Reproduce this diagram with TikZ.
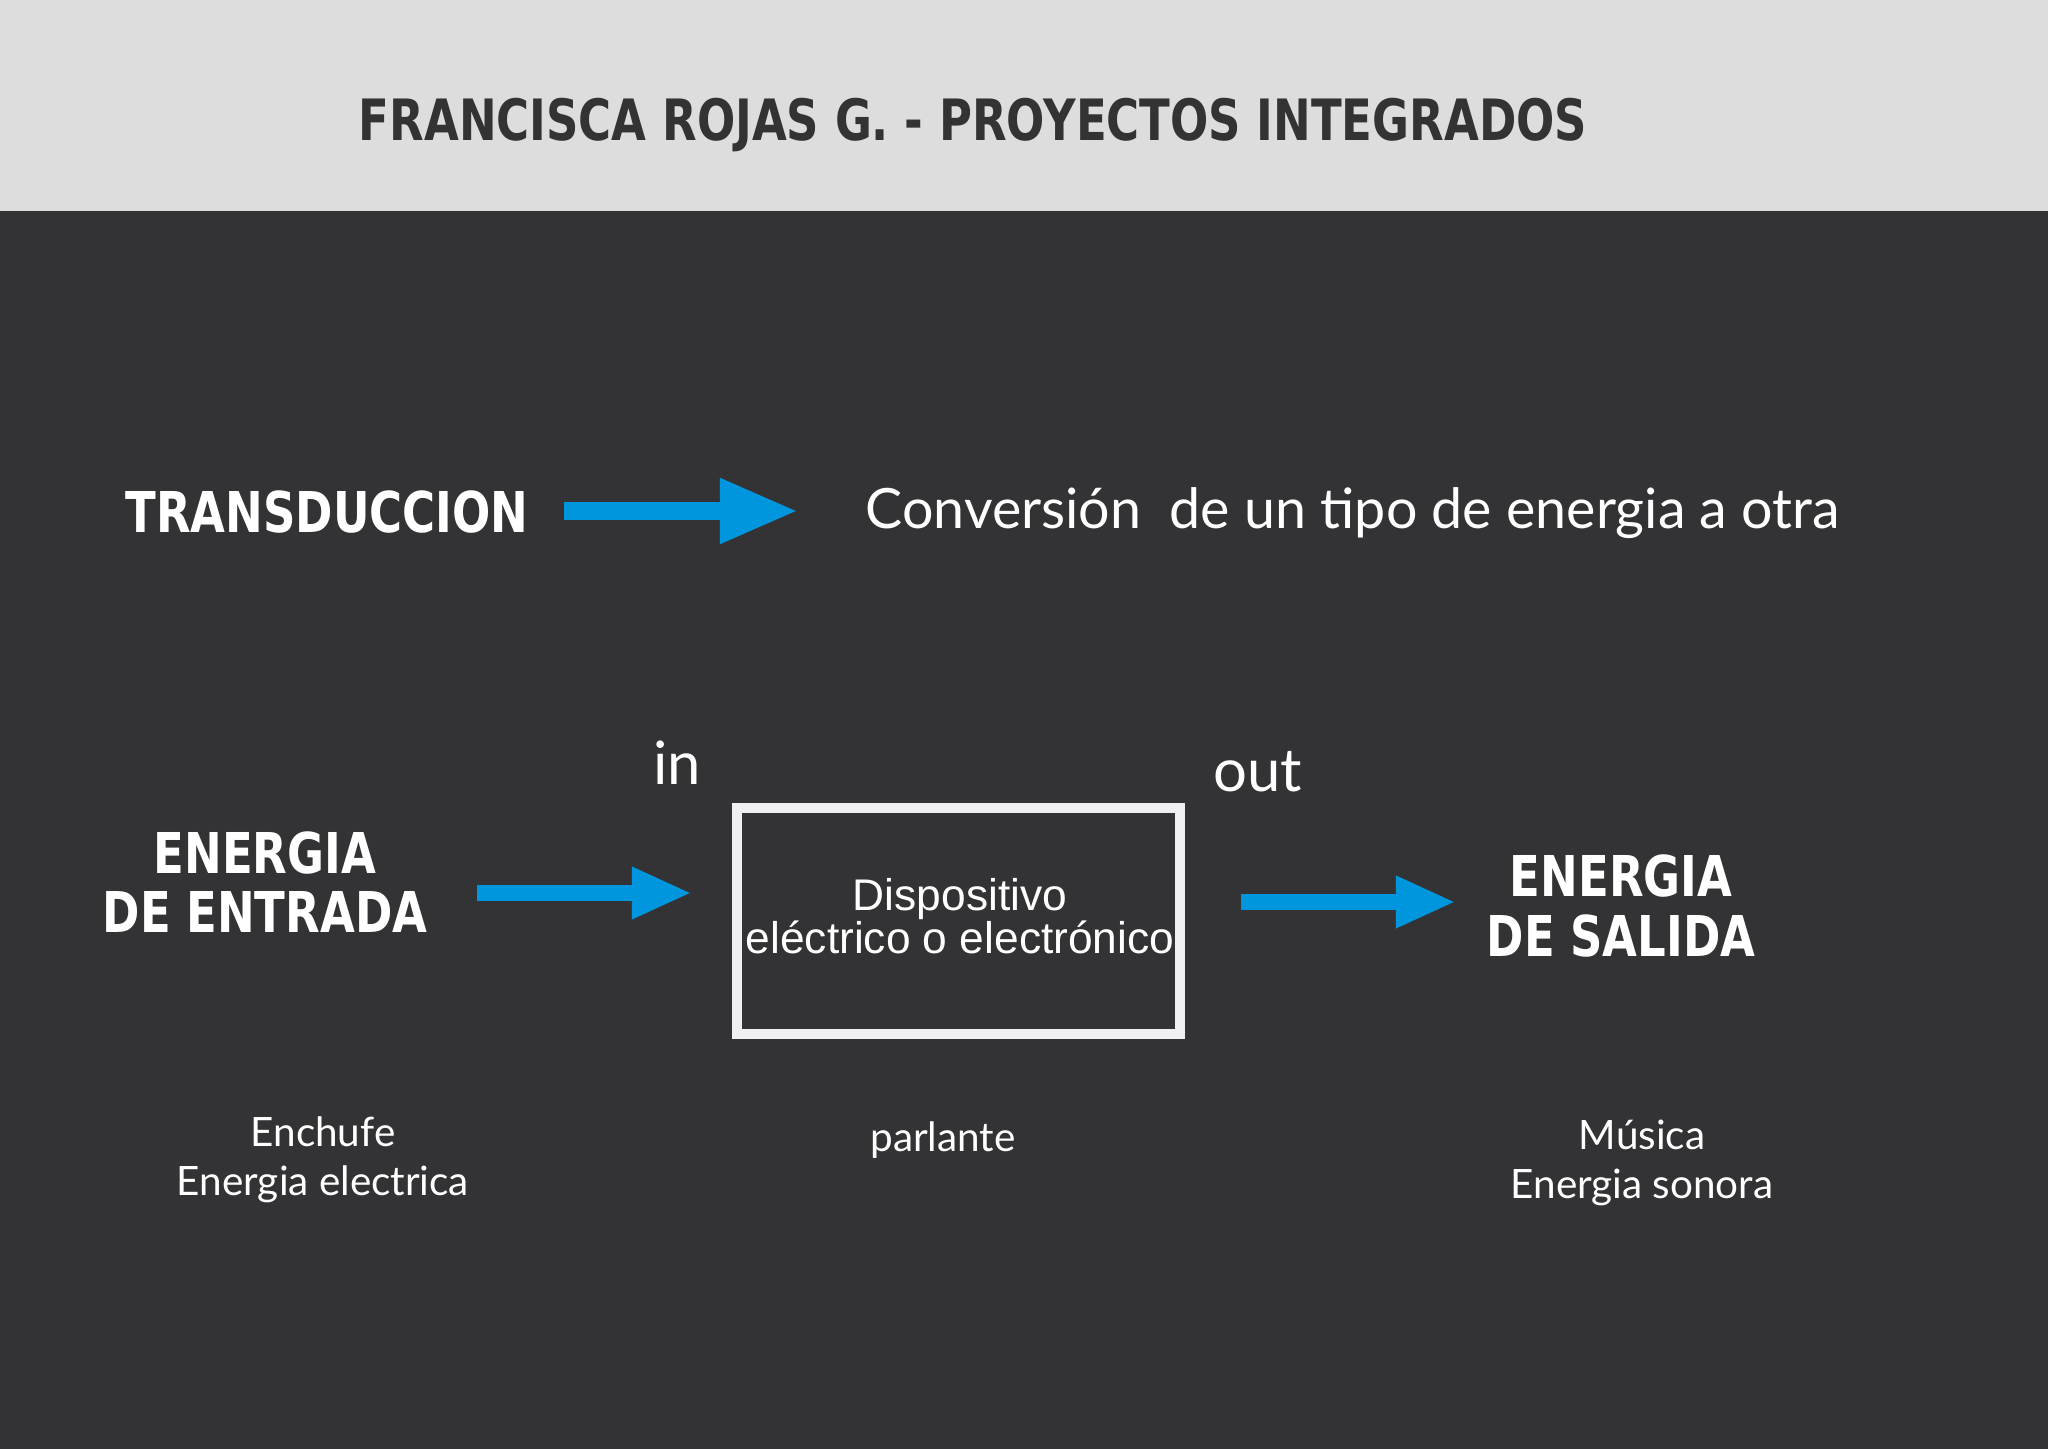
\documentclass[tikz,border=0pt]{standalone}
\usepackage{fontspec}
\usetikzlibrary{arrows.meta}

\newfontfamily\headfont[FakeStretch=0.80]{DejaVu Sans Bold}
\newfontfamily\titlefont[FakeStretch=0.79]{DejaVu Sans Bold}
\newfontfamily\bodyfont{Lato}
\newfontfamily\boxfont{Liberation Sans}

\definecolor{fondo}{RGB}{51,51,53}
\definecolor{franja}{RGB}{221,221,221}
\definecolor{titulo}{RGB}{51,51,51}
\definecolor{flecha}{RGB}{0,150,222}
\definecolor{marco}{RGB}{240,240,242}

\begin{document}
\begin{tikzpicture}[
    x=0.01cm,
    y=-0.01cm,
    line cap=butt,
    heading/.style={
        text=white,
        align=center,
        font={\headfont\fontsize{16}{16.8}\selectfont}
    },
    plain/.style={
        text=white,
        align=center,
        font={\bodyfont\fontsize{11.5}{14}\selectfont}
    },
    bigarrow/.style={
        flecha,
        line width=0.17cm,
        -{Triangle[length=0.78cm,width=0.61cm]}
    },
    smallarrow/.style={
        flecha,
        line width=0.16cm,
        -{Triangle[length=0.60cm,width=0.48cm]}
    }
]

% -------------------------------------------------
% Fondo y franja superior
% -------------------------------------------------

\fill[fondo] (0,0) rectangle (2048,1449);
\fill[franja] (0,0) rectangle (2048,211);
\useasboundingbox (0,0) rectangle (2048,1449);

\node[anchor=base, text=titulo,
      font={\titlefont\fontsize{16.2}{18}\selectfont}]
    (titulo) at (973,141) {FRANCISCA ROJAS G. - PROYECTOS INTEGRADOS};

% -------------------------------------------------
% Definicion
% -------------------------------------------------

\node[heading, anchor=base] (trans) at (327,533) {TRANSDUCCION};

\node[anchor=base west, inner sep=0pt, text=white,
      font={\bodyfont\fontsize{15.8}{19}\selectfont}]
    (conv) at (865,529) {Conversión\ \ de un tipo de energia a otra};

\coordinate (a1) at (564,511);
\coordinate (b1) at (798,511);
\draw[bigarrow] (a1) -- (b1);

% -------------------------------------------------
% Esquema entrada - dispositivo - salida
% -------------------------------------------------

\node[heading] (entrada) at (265,882) {ENERGIA\\DE ENTRADA};
\node[heading] (salida)  at (1621,906) {ENERGIA\\DE SALIDA};

% Marco del dispositivo
\draw[marco, line width=0.10cm] (737,808) rectangle (1180,1034);
\node[text=white, align=center,
      font={\boxfont\fontsize{12.6}{12.2}\selectfont}]
    (disp) at (960,916) {Dispositivo\\eléctrico o electrónico};

\node[text=white, font={\bodyfont\fontsize{17}{20}\selectfont}]
    (in) at (677,763) {in};
\node[text=white, font={\bodyfont\fontsize{17}{20}\selectfont}]
    (out) at (1258,772) {out};

\coordinate (a2) at (477,893);
\coordinate (b2) at (692,893);
\draw[smallarrow] (a2) -- (b2);

\coordinate (a3) at (1241,902);
\coordinate (b3) at (1456,902);
\draw[smallarrow] (a3) -- (b3);

% -------------------------------------------------
% Ejemplos
% -------------------------------------------------

\node[plain] (enchufe)  at (323,1160) {Enchufe\\Energia electrica};
\node[plain] (parlante) at (943,1140) {parlante};
\node[plain] (musica)   at (1642,1163) {Música\\Energia sonora};

\end{tikzpicture}
\end{document}
